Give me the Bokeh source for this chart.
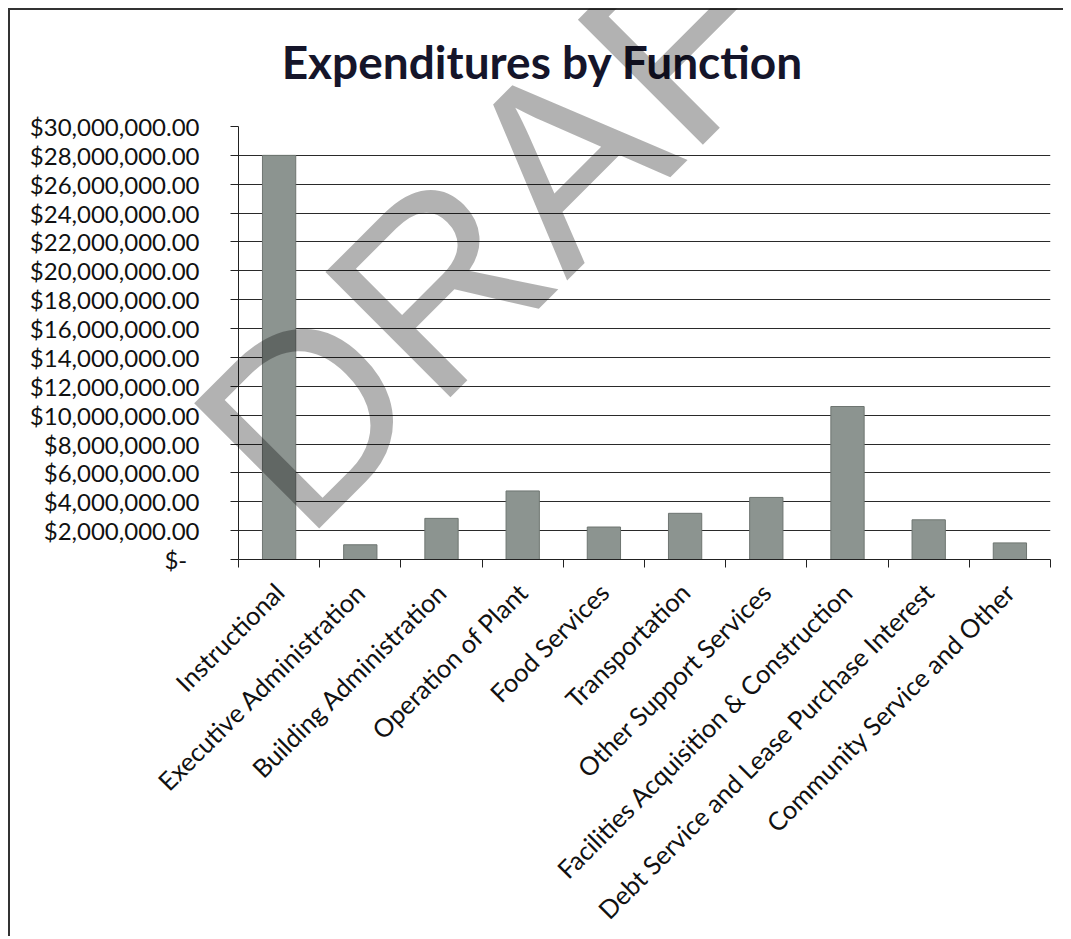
import math
from bokeh.plotting import figure
from bokeh.layouts import column
from bokeh.models import FixedTicker, Range1d
from bokeh.core.properties import value
from bokeh.embed import file_html
from bokeh.resources import INLINE

# ---- data ----
categories = [
    "Instructional",
    "Executive Administration",
    "Building Administration",
    "Operation of Plant",
    "Food Services",
    "Transportation",
    "Other Support Services",
    "Facilities Acquisition & Construction",
    "Debt Service and Lease Purchase Interest",
    "Community Service and Other",
]
values = [28.0e6, 1.02e6, 2.85e6, 4.75e6, 2.25e6, 3.2e6, 4.3e6, 10.6e6, 2.75e6, 1.15e6]
y_ticks = [0, 2e6, 4e6, 6e6, 8e6, 10e6, 12e6, 14e6, 16e6, 18e6, 20e6, 22e6, 24e6, 26e6, 28e6, 30e6]
y_tick_labels = ["$-\u00a0\u00a0", "$2,000,000.00", "$4,000,000.00", "$6,000,000.00", "$8,000,000.00",
                 "$10,000,000.00", "$12,000,000.00", "$14,000,000.00", "$16,000,000.00",
                 "$18,000,000.00", "$20,000,000.00", "$22,000,000.00", "$24,000,000.00",
                 "$26,000,000.00", "$28,000,000.00", "$30,000,000.00"]
title_text = "Expenditures by Function"
watermark = "DRAFT"

n = len(categories)
centers = [i + 0.5 for i in range(n)]
bounds = [float(i) for i in range(n + 1)]

FONT = "Lato"

p = figure(frame_width=810, frame_height=431,
           x_range=Range1d(0, n), y_range=Range1d(0, y_ticks[-1]),
           output_backend="svg", toolbar_location=None, title=None,
           min_border_left=228, min_border_right=15, min_border_top=116, min_border_bottom=0)
p.frame_align = False
p.styles = {"margin-left": "8px", "margin-top": "8px",
            "border-left": "2px solid #333", "border-top": "2px solid #333"}
p.outline_line_color = None
p.background_fill_color = "white"
p.border_fill_color = "white"

p.vbar(x=centers, top=values, width=0.41, bottom=0,
       fill_color="#8c9490", line_color="#6e7571", line_width=1)

# y axis
p.yaxis.ticker = FixedTicker(ticks=y_ticks)
p.yaxis.major_label_overrides = {t: s for t, s in zip(y_ticks, y_tick_labels)}
p.yaxis.major_label_text_font = FONT
p.yaxis.major_label_text_font_size = "24px"
p.yaxis.major_label_text_color = "#111111"
p.yaxis.major_label_standoff = 31
p.yaxis.major_tick_out = 8
p.yaxis.major_tick_in = 0
p.yaxis.minor_tick_out = 0
p.yaxis.minor_tick_in = 0
p.yaxis.axis_line_color = "#222222"
p.yaxis.major_tick_line_color = "#222222"

p.ygrid.ticker = FixedTicker(ticks=y_ticks)
p.ygrid.grid_line_color = "#2a2a2a"
p.ygrid.grid_line_width = 1.2
p.xgrid.visible = False

# x axis
p.xaxis.ticker = FixedTicker(ticks=centers, minor_ticks=bounds)
p.xaxis.major_label_overrides = {c: s for c, s in zip(centers, categories)}
p.xaxis.major_label_orientation = math.pi / 4
p.xaxis.major_label_text_font = FONT
p.xaxis.major_label_text_font_size = "25.5px"
p.xaxis.major_label_text_color = "#111111"
p.xaxis.major_label_standoff = 20
p.xaxis.major_tick_out = 0
p.xaxis.major_tick_in = 0
p.xaxis.minor_tick_out = 8
p.xaxis.minor_tick_in = 0
p.xaxis.minor_tick_line_color = "#222222"
p.xaxis.axis_line_color = "#222222"

# transparent overlay figure (page-pixel coordinates) carrying the title and the DRAFT watermark
W, H = 1055, 923
wmf = figure(width=W, height=H, x_range=Range1d(0, W), y_range=Range1d(H, 0),
             x_axis_type=None, y_axis_type=None, title=None,
             output_backend="svg", toolbar_location=None,
             min_border=0, min_border_left=0, min_border_right=0,
             min_border_top=0, min_border_bottom=0)
wmf.frame_align = False
wmf.grid.visible = False
wmf.outline_line_color = None
wmf.background_fill_color = None
wmf.border_fill_color = None
wmf.styles = {"position": "absolute", "left": "8px", "top": "8px", "pointer-events": "none"}
wmf.text(x=[534], y=[53], text=[title_text],
         text_font=value(FONT), text_font_style="bold", text_font_size="46px",
         text_color="#15152a", text_baseline="alphabetic", text_align="center")
wmf.text(x=[232.5], y=[471.5], text=[watermark], angle=math.pi / 4,
         text_font=value("Liberation Sans"), text_font_size="257px",
         text_color="black", text_alpha=0.3, text_baseline="alphabetic", text_align="left")

page = column(p, wmf)
open("out.html", "w").write(file_html(page, INLINE))
